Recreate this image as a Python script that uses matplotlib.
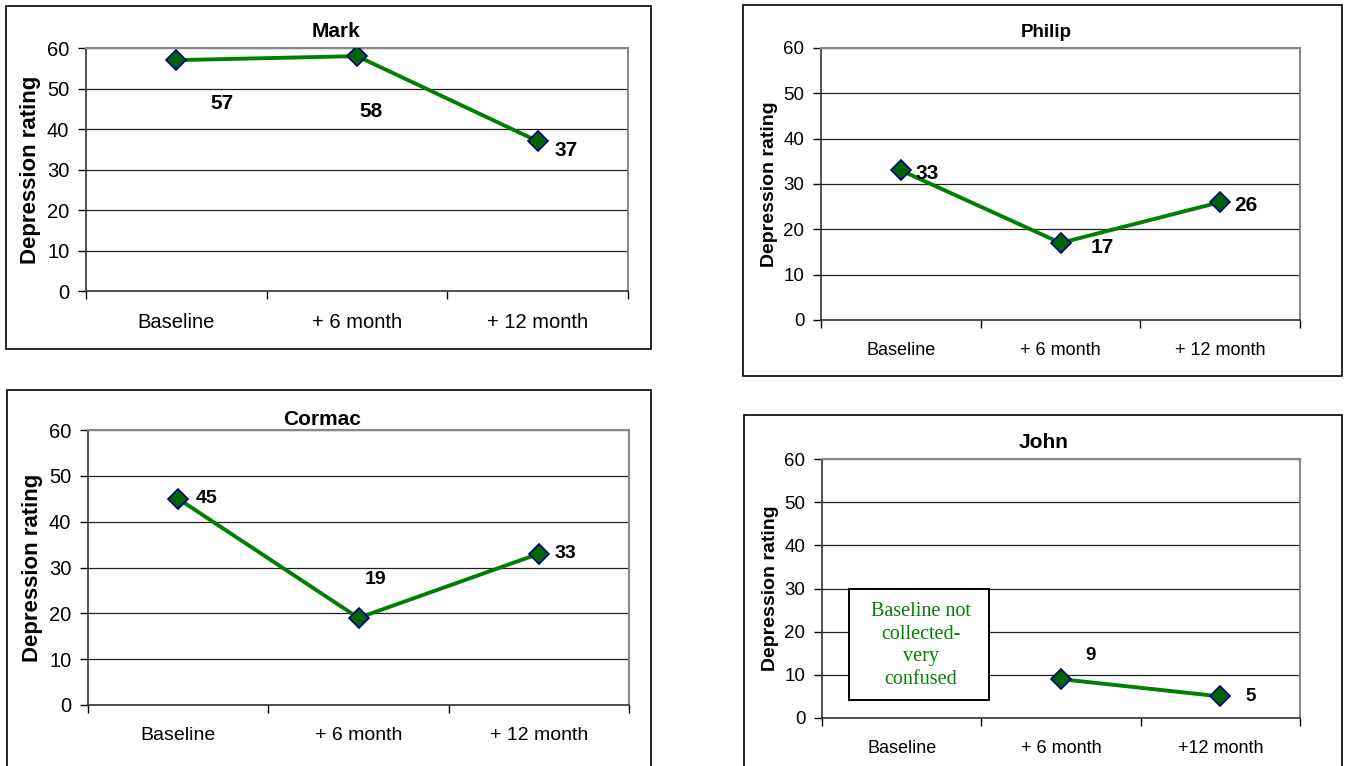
import matplotlib
matplotlib.use("Agg")
import matplotlib.pyplot as plt
from matplotlib.patches import Rectangle

plt.rcParams['font.family'] = ['Liberation Sans', 'DejaVu Sans']

# data
months = ["Baseline", "+ 6 month", "+ 12 month"]
months_john = ["Baseline", "+ 6 month", "+12 month"]

mark = [57, 58, 37]
philip = [33, 17, 26]
cormac = [45, 19, 33]
john_x = [1, 2]
john = [9, 5]

# label offsets (pixels) for each value label
mark_off = [(46, -43), (14, -55), (28, -9)]
philip_off = [(26, -3), (42, -5), (26, -3)]
cormac_off = [(28, 0), (17, 38), (27, 0)]
john_off = [(30, 24), (30, 0)]

W, H = 1345, 766
fig = plt.figure(figsize=(W / 100, H / 100), dpi=100)


def px_axes(l, t, r, b):
    return fig.add_axes([l / W, 1 - b / H, (r - l) / W, (b - t) / H])


def box(l, t, r, b):
    fig.patches.append(Rectangle((l / W, 1 - b / H), (r - l) / W, (b - t) / H,
                                 transform=fig.transFigure, fill=False,
                                 edgecolor='black', linewidth=1.2))


def panel(rect, title, tpos, title_fs, xs, ys, labels, offs,
          xfs, yfs, lab_fs, ylab_fs):
    ax = px_axes(*rect)
    ax.set_xlim(-0.5, 2.5)
    ax.set_ylim(0, 60)
    ax.set_yticks(range(0, 61, 10))
    ax.grid(axis='y', color='#222222', linewidth=0.9)
    ax.set_axisbelow(True)
    ax.set_xticks(range(3))
    ax.set_xticklabels(labels, fontsize=xfs)
    ax.set_xticks([-0.5, 0.5, 1.5, 2.5], minor=True)
    ax.tick_params(axis='x', which='major', length=0, pad=16)
    ax.tick_params(axis='x', which='minor', length=6, width=1)
    ax.tick_params(axis='y', length=6, width=1, pad=6, labelsize=yfs)
    for s in ['top', 'right']:
        ax.spines[s].set_color('#888888')
        ax.spines[s].set_linewidth(1.5)
    for s in ['left', 'bottom']:
        ax.spines[s].set_color('#333333')
        ax.spines[s].set_linewidth(1.2)
    ax.plot(xs, ys, color='#008000', linewidth=2.8, marker='D', markersize=10,
            markerfacecolor='#006400', markeredgecolor='#000080',
            markeredgewidth=1.2, zorder=5)
    for x, y, (dx, dy) in zip(xs, ys, offs):
        ax.annotate(str(y), (x, y), xytext=(dx * 0.72, dy * 0.72),
                    textcoords='offset points', ha='center', va='center',
                    fontsize=lab_fs, fontweight='bold', zorder=6)
    ax.set_ylabel("Depression rating", fontsize=ylab_fs, fontweight='bold')
    fig.text(tpos[0] / W, 1 - tpos[1] / H, title, ha='center', va='baseline',
             fontsize=title_fs, fontweight='bold')
    return ax


box(6, 6, 651, 349)
box(743, 5, 1342, 376)
box(7, 390, 651, 780)
box(744, 415, 1342, 780)

panel((86, 48, 628, 291), "Mark", (336, 37), 15, range(3), mark, months,
      mark_off, 14.5, 14.5, 15, 16)
panel((821, 48, 1300, 320), "Philip", (1046, 37), 13.5, range(3), philip,
      months, philip_off, 13, 13.5, 15, 14)
panel((88, 430, 629, 705), "Cormac", (322, 425), 15, range(3), cormac, months,
      cormac_off, 14, 14.5, 14, 16)
ax = panel((822, 459, 1300, 718), "John", (1044, 448), 15, john_x, john,
           months_john, john_off, 13, 13.5, 13.5, 14)

ax.add_patch(Rectangle((-0.33, 4.1), 0.88, 25.9, facecolor='white',
                       edgecolor='black', linewidth=1.4, zorder=7))
ax.text(0.12, 16.8, "Baseline not\ncollected-\nvery\nconfused", ha='center',
        va='center', color='#008000', fontsize=14.5, family='Liberation Serif',
        linespacing=1.25, zorder=8)

fig.savefig("out.png", dpi=100)
